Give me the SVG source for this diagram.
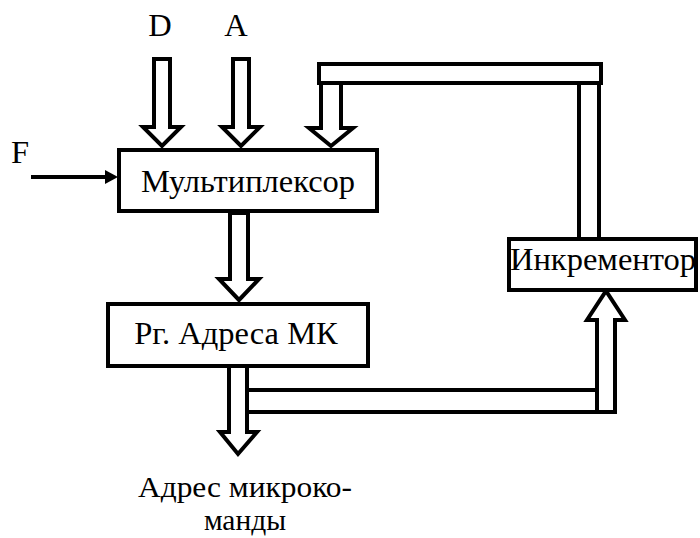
<svg xmlns="http://www.w3.org/2000/svg" width="700" height="538" viewBox="0 0 700 538">
<style>
.box{fill:#fff;stroke:#000;stroke-width:4}
.bus{fill:#fff;stroke:#000;stroke-width:4;stroke-linejoin:miter;stroke-miterlimit:10}
.ln{fill:none;stroke:#000;stroke-width:4}
.t{font-family:'Liberation Serif','Times New Roman','DejaVu Serif',serif;font-size:32.5px;fill:#000}
.cap{font-size:29.5px}
</style>
<rect width="700" height="538" fill="#fff"/>
<g id="connectors">
  <polygon class="bus" points="154,59 170,59 170,127 181,127 162,146 143,127 154,127"/>
  <polygon class="bus" points="233,59 249,59 249,127 260,127 241,146 222,127 233,127"/>
  <rect class="bus" x="319" y="64" width="282" height="19"/>
  <polygon class="bus" points="321,83 341,83 341,128 353,128 331,146 309,128 321,128"/>
  <line class="ln" x1="579" y1="83" x2="579" y2="239"/>
  <line class="ln" x1="599" y1="83" x2="599" y2="239"/>
  <polygon class="bus" points="230,213 248,213 248,279 259,279 239,300 219,279 230,279"/>
  <line x1="31" y1="177" x2="108" y2="177" stroke="#000" stroke-width="4"/>
  <polygon points="105,170 118,177 105,184" fill="#000"/>
  <path class="bus" d="M229,368 L229,432 L220,432 L238,454 L257,432 L247,432 L247,412 L615,412 L615,320 L625,320 L606,291 L587,320 L597,320 L597,390 L247,390"/>
  <line class="ln" x1="247" y1="368" x2="247" y2="432"/>
  <line class="ln" x1="597" y1="388" x2="597" y2="414"/>
</g>
<g id="mux">
  <rect class="box" x="119" y="150" width="258" height="61"/>
  <text class="t" x="248" y="192" text-anchor="middle">Мультиплексор</text>
</g>
<g id="reg">
  <rect class="box" x="108" y="304" width="260" height="62"/>
  <text class="t" x="236" y="344" text-anchor="middle">Рг. Адреса МК</text>
</g>
<g id="inc">
  <rect class="box" x="509" y="239" width="187" height="51"/>
  <text class="t" x="603" y="270" text-anchor="middle">Инкрементор</text>
</g>
<g id="labels">
  <text class="t" x="160" y="36" text-anchor="middle">D</text>
  <text class="t" x="236" y="36" text-anchor="middle">A</text>
  <text class="t" x="20" y="163" text-anchor="middle">F</text>
  <text class="t cap" x="245" y="497" text-anchor="middle" textLength="214" lengthAdjust="spacingAndGlyphs">Адрес микроко-</text>
  <text class="t cap" x="245" y="530" text-anchor="middle">манды</text>
</g>
</svg>
